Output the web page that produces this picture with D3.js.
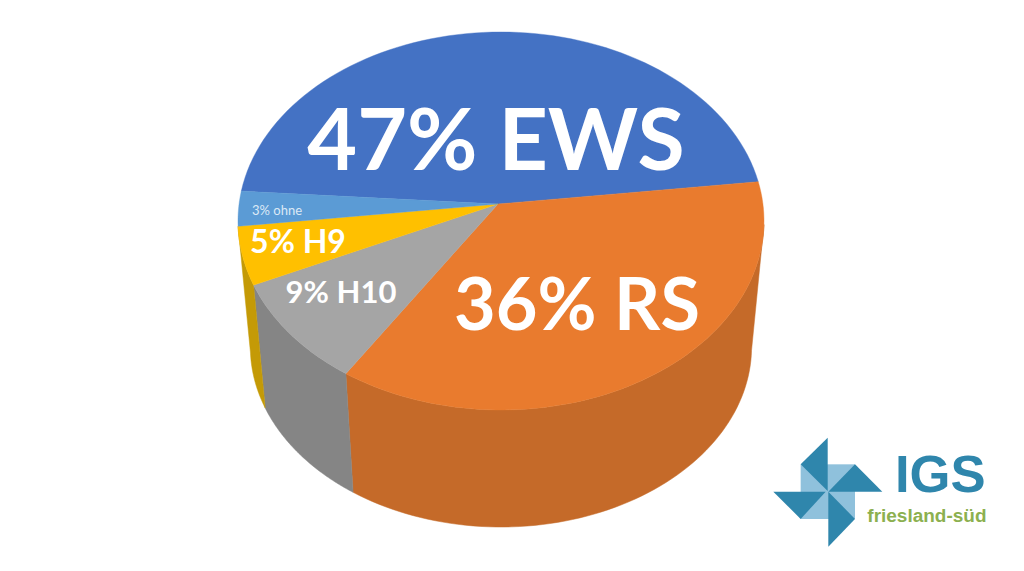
<!DOCTYPE html>
<html><head><meta charset="utf-8">
<script src="https://cdn.jsdelivr.net/npm/d3@7"></script>
<style>html,body{margin:0;padding:0;background:#fff}svg{display:block}</style>
</head><body><svg id="c" width="1024" height="571"></svg>
<script>
const categories=["EWS","RS","H10","H9","ohne"];
const shares=[47,36,9,5,3];
const topColors=["#4472c4","#e97b2e","#a5a5a5","#ffc000","#5b9bd5"];
const sideColors=["#3a619f","#c56a29","#858585","#c49a06","#4d84b5"];
const labels=["47% EWS","36% RS","9% H10","5% H9","3% ohne"];
const labelX=[496,577,341,298,277];
const labelY=[170,330,303,253,215];
const labelSize=[86,72,31,32,13];
const labelColor=["#fff","#fff","#fff","#fff","#dbe9f5"];

const svg=d3.select("#c");
const rad=d=>d*Math.PI/180;
const start=rad(-86);
const pie=d3.pie().sort(null).startAngle(start).endAngle(start+2*Math.PI);
const arcs=pie(shares);

const topE={cx:501,cy:221,rx:263,ry:189};
const apex=[498,204];
const vanish=[500,2900],shrink=.953;

// rim point of the top face for a slice angle: ray from the off-centre apex meets the ellipse
function rim(t){
  const dx=topE.rx*Math.sin(t),dy=-topE.ry*Math.cos(t);
  const ax=(apex[0]-topE.cx)/topE.rx,ay=(apex[1]-topE.cy)/topE.ry,bx=dx/topE.rx,by=dy/topE.ry;
  const A=bx*bx+by*by,B=2*(ax*bx+ay*by),C=ax*ax+ay*ay-1;
  const r=(-B+Math.sqrt(B*B-4*A*C))/(2*A);
  return [apex[0]+r*dx,apex[1]+r*dy];
}
const lower=p=>[vanish[0]+shrink*(p[0]-vanish[0]),vanish[1]+shrink*(p[1]-vanish[1])];
const samples=d=>d3.range(0,1.0001,1/80).map(d3.scaleLinear().domain([0,1]).range([d.startAngle,d.endAngle])).map(rim);

// side wall: only slices facing the viewer
arcs.forEach((a,i)=>{
  if(rim((a.startAngle+a.endAngle)/2)[1]<topE.cy) return;
  const up=samples(a).filter(p=>p[1]>=topE.cy);
  const dn=up.map(lower).reverse();
  svg.append("path").attr("d",d3.line()(up.concat(dn))+"Z")
    .attr("fill",sideColors[i]).attr("stroke",sideColors[i]).attr("stroke-width",.5);
});

// top face
svg.append("g").selectAll("path").data(arcs).join("path")
  .attr("d",d=>d3.line()([apex,...samples(d)])+"Z")
  .attr("fill",(d,i)=>topColors[i]).attr("stroke",(d,i)=>topColors[i]).attr("stroke-width",.4);

// labels
svg.selectAll("text.l").data(labels).join("text").attr("class","l")
  .attr("x",(d,i)=>labelX[i]).attr("y",(d,i)=>labelY[i])
  .attr("text-anchor","middle").attr("font-family","Lato")
  .attr("font-weight",(d,i)=>i==4?400:700)
  .attr("font-size",(d,i)=>labelSize[i]).attr("fill",(d,i)=>labelColor[i]).text(d=>d);

// logo
const logo=svg.append("g").attr("transform","translate(760,425) scale(.3333)");
logo.append("rect").attr("x",122).attr("y",118).attr("width",163).attr("height",164).attr("fill","#8fc1dc");
[[[203,38],[122,118],[203,198]],[[285,118],[367,200],[205,200]],[[205,200],[285,282],[205,365]],[[40,200],[197,200],[122,282]]]
 .forEach(p=>logo.append("path").attr("d",d3.line()(p)+"Z").attr("fill","#2f86ac"));
logo.append("text").attr("x",405).attr("y",202).attr("font-family","Liberation Sans").attr("font-weight",700)
 .attr("font-size",158).attr("fill","#2f86ac").text("IGS");
logo.append("text").attr("x",322).attr("y",292).attr("font-family","Liberation Sans").attr("font-weight",700)
 .attr("font-size",57).attr("fill","#8cb04f").text("friesland-süd");
</script></body></html>
